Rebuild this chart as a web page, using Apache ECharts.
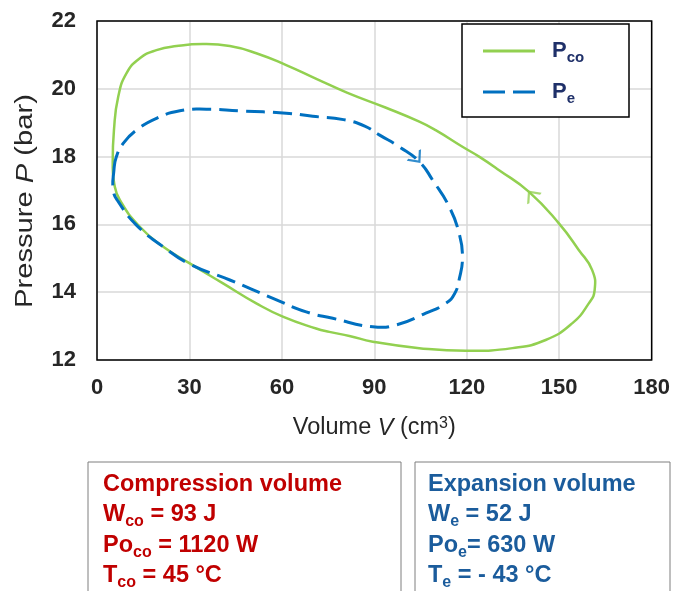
<!DOCTYPE html>
<html>
<head>
<meta charset="utf-8">
<script src="https://cdn.jsdelivr.net/npm/echarts@6/dist/echarts.min.js"></script>
<style>
  html, body { margin: 0; padding: 0; background: #fff; }
  #chart { width: 673px; height: 591px; }
</style>
</head>
<body>
<div id="chart"></div>
<script>
// compression space pressure loop, closed loop
var pcoV = [5.1, 5.5, 6.9, 9.6, 13.9, 19.3, 25.8, 34.4, 43.1, 51.7, 61.4, 71.0, 81.3, 93.8, 104.6, 109.9,
  118.6, 124.0, 130.5, 140.2, 149.9, 156.4, 160.7, 161.5, 159.6, 154.2, 145.6, 134.8, 119.7, 104.6,
  89.5, 81.9, 75.4, 71.1, 60.3, 51.7, 40.9, 30.1, 21.5, 13.9, 7.4, 5.6];
var pcoP = [17.80, 18.78, 19.77, 20.46, 20.90, 21.14, 21.26, 21.32, 21.26, 21.05, 20.70, 20.30, 19.88, 19.44, 19.03, 18.78,
  18.29, 18.00, 17.60, 16.96, 16.03, 15.24, 14.65, 14.06, 13.67, 13.08, 12.59, 12.35, 12.27, 12.35,
  12.54, 12.71, 12.83, 12.93, 13.28, 13.67, 14.26, 14.85, 15.34, 15.93, 16.72, 17.20];

// expansion space pressure loop
var peV = [5.5, 6.3, 8.5, 12.8, 19.3, 26.9, 35.5, 46.3, 61.4, 70.0, 80.0, 86.9, 91.6, 98.1, 104.6, 108.9,
  114.3, 117.5, 118.6, 117.5, 116.0, 113.2, 106.7, 97.0, 89.5, 76.5, 67.9, 57.1, 43.1, 30.1,
  21.5, 12.8, 6.9, 5.3];
var peP = [17.60, 18.00, 18.39, 18.78, 19.13, 19.35, 19.40, 19.35, 19.28, 19.19, 19.09, 18.90, 18.64, 18.29, 17.85, 17.31,
  16.52, 15.74, 15.05, 14.36, 13.95, 13.67, 13.38, 13.03, 12.98, 13.23, 13.42, 13.82, 14.36, 14.83,
  15.34, 15.98, 16.67, 17.00];

// direction arrows on each loop: [V, P, angle in degrees]
var pcoArrow = [141.1, 16.86, 128];
var peArrow = [103.7, 17.95, -51];

var xTicks = [0, 180, 30];   // min, max, step
var yTicks = [12, 22, 2];

var GREEN = '#92D050', BLUE = '#0070C0';
var FONT = 'Liberation Sans, Arial, sans-serif';
var chevron = 'path://M0,0L8,8L0,16';

function pairs(xs, ys) {
  return xs.map(function (x, i) { return [x, ys[i]]; });
}

// one smooth closed curve through all points of a loop
function loopRenderer(xs, ys, lineStyle) {
  return function (params, api) {
    if (params.dataIndex !== 0) return null;
    var pts = xs.map(function (x, i) { return api.coord([x, ys[i]]); });
    return {
      type: 'polygon', silent: true,
      shape: { points: pts, smooth: 0.5 },
      style: lineStyle
    };
  };
}

function arrowSeries(a, color) {
  return {
    type: 'scatter', silent: true, z: 4,
    data: [{ value: [a[0], a[1]], symbolRotate: a[2] }],
    symbol: chevron, symbolSize: [9, 16],
    itemStyle: { color: 'none', borderColor: color, borderWidth: 2 }
  };
}

var chart = echarts.init(document.getElementById('chart'));

var graphics = [
  { type: 'text', x: 26, y: 201, rotation: Math.PI / 2, scaleX: 1.24,
    style: {
      text: '{a|Pressure }{i|P}{a| (bar)}', align: 'center', verticalAlign: 'middle',
      rich: {
        a: { fontSize: 23.5, fill: '#262626', fontFamily: FONT },
        i: { fontSize: 23.5, fill: '#262626', fontStyle: 'italic', fontFamily: FONT }
      }
    } },
  { type: 'rect', z: 5, shape: { x: 462, y: 24, width: 167, height: 93 },
    style: { fill: '#fff', stroke: '#000', lineWidth: 1.5 } },
  { type: 'rect', z: 5, shape: { x: 88, y: 462, width: 313, height: 140 },
    style: { fill: '#fff', stroke: '#7F7F7F', lineWidth: 1 } },
  { type: 'rect', z: 5, shape: { x: 415, y: 462, width: 255, height: 140 },
    style: { fill: '#fff', stroke: '#7F7F7F', lineWidth: 1 } },
  { type: 'text', z: 6, x: 103, y: 469,
    style: {
      text: '{t|Compression volume}\n{t|W}{s|co}{t| = 93 J}\n{t|Po}{s|co}{t| = 1120 W}\n{t|T}{s|co}{t| = 45 °C}',
      rich: {
        t: { fontSize: 23.5, fontWeight: 'bold', fill: '#C00000', lineHeight: 30.5, fontFamily: FONT },
        s: { fontSize: 16, fontWeight: 'bold', fill: '#C00000', lineHeight: 15, verticalAlign: 'bottom', fontFamily: FONT }
      }
    } },
  { type: 'text', z: 6, x: 428, y: 469,
    style: {
      text: '{t|Expansion volume}\n{t|W}{s|e}{t| = 52 J}\n{t|Po}{s|e}{t|= 630 W}\n{t|T}{s|e}{t| = - 43 °C}',
      rich: {
        t: { fontSize: 23.5, fontWeight: 'bold', fill: '#1B5C9C', lineHeight: 30.5, fontFamily: FONT },
        s: { fontSize: 16, fontWeight: 'bold', fill: '#1B5C9C', lineHeight: 15, verticalAlign: 'bottom', fontFamily: FONT }
      }
    } }
];

chart.setOption({
  animation: false,
  textStyle: { fontFamily: FONT },
  grid: { left: 97, right: 20, top: 21, bottom: 231 },
  xAxis: {
    type: 'value', min: xTicks[0], max: xTicks[1], interval: xTicks[2],
    axisLine: { show: false }, axisTick: { show: false },
    splitLine: { lineStyle: { color: '#D9D9D9', width: 1.5 } },
    axisLabel: { fontSize: 22, fontWeight: 'bold', color: '#262626', margin: 17, fontFamily: FONT },
    name: '{a|Volume }{i|V}{a| (cm}{s|3}{a|)}',
    nameLocation: 'middle', nameGap: 56,
    nameTextStyle: {
      rich: {
        a: { fontSize: 23.5, color: '#262626', fontFamily: FONT },
        i: { fontSize: 23.5, color: '#262626', fontStyle: 'italic', fontFamily: FONT },
        s: { fontSize: 16, color: '#262626', verticalAlign: 'top', lineHeight: 20, fontFamily: FONT }
      }
    }
  },
  yAxis: {
    type: 'value', min: yTicks[0], max: yTicks[1], interval: yTicks[2],
    axisLine: { show: false }, axisTick: { show: false },
    splitLine: { lineStyle: { color: '#D9D9D9', width: 1.5 } },
    axisLabel: { fontSize: 22, fontWeight: 'bold', color: '#262626', margin: 21, fontFamily: FONT }
  },
  legend: {
    orient: 'vertical', left: 478, top: 35, padding: 5, z: 6,
    itemWidth: 52, itemHeight: 14, itemGap: 16,
    data: [
      { name: 'Pco', icon: 'path://M0,0L52,0L52,3L0,3Z', itemStyle: { color: GREEN } },
      { name: 'Pe', icon: 'path://M0,0L22,0L22,3L0,3ZM30,0L52,0L52,3L30,3Z', itemStyle: { color: BLUE } }
    ],
    formatter: function (name) {
      return name === 'Pco' ? '{b|P}{s|co}' : '{b|P}{s|e}';
    },
    textStyle: {
      padding: [0, 0, 0, 12],
      rich: {
        b: { fontSize: 22, fontWeight: 'bold', color: '#1F3069', lineHeight: 28, fontFamily: FONT },
        s: { fontSize: 15, fontWeight: 'bold', color: '#1F3069', lineHeight: 14, verticalAlign: 'bottom', fontFamily: FONT }
      }
    }
  },
  graphic: graphics,
  series: [
    {
      name: 'Pco', type: 'custom', z: 3, data: pairs(pcoV, pcoP),
      encode: { x: 0, y: 1 }, itemStyle: { color: GREEN },
      renderItem: loopRenderer(pcoV, pcoP, { fill: 'none', stroke: GREEN, lineWidth: 2.5 })
    },
    {
      name: 'Pe', type: 'custom', z: 3, data: pairs(peV, peP),
      encode: { x: 0, y: 1 }, itemStyle: { color: BLUE },
      renderItem: loopRenderer(peV, peP, { fill: 'none', stroke: BLUE, lineWidth: 3, lineDash: [19, 8] })
    },
    arrowSeries(pcoArrow, GREEN),
    arrowSeries(peArrow, BLUE)
  ]
});

// black plot frame, placed from the axes' own scale
var tl = chart.convertToPixel({ gridIndex: 0 }, [xTicks[0], yTicks[1]]);
var br = chart.convertToPixel({ gridIndex: 0 }, [xTicks[1], yTicks[0]]);
graphics.push({ type: 'rect', z: 4, silent: true,
  shape: { x: tl[0], y: tl[1], width: br[0] - tl[0], height: br[1] - tl[1] },
  style: { fill: 'none', stroke: '#000', lineWidth: 1.5 } });
chart.setOption({ graphic: graphics }, { replaceMerge: ['graphic'] });
</script>
</body>
</html>
